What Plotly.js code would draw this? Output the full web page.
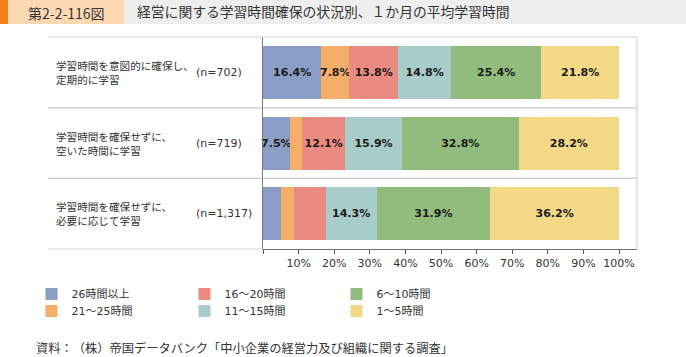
<!DOCTYPE html>
<html>
<head>
<meta charset="utf-8">
<script src="https://cdn.plot.ly/plotly-3.0.1.min.js"></script>
<style>
html,body{margin:0;padding:0;background:#fff;}
#chart{width:686px;height:357px;}
#chart text{text-spacing-trim:space-all;}
</style>
</head>
<body>
<div id="chart"></div>
<script>
// ---- data ----
const categories = ['学習時間を意図的に確保し、<br>定期的に学習', '学習時間を確保せずに、<br>空いた時間に学習', '学習時間を確保せずに、<br>必要に応じて学習'];
const sampleSizes = ['(n=702)', '(n=719)', '(n=1,317)'];
const seriesNames = ['26時間以上', '21～25時間', '16～20時間', '11～15時間', '6～10時間', '1～5時間'];
const h26plus = [16.4, 7.5, 5.1];
const h21to25 = [7.8, 3.5, 3.6];
const h16to20 = [13.8, 12.1, 8.9];
const h11to15 = [14.8, 15.9, 14.3];
const h6to10 = [25.4, 32.8, 31.9];
const h1to5 = [21.8, 28.2, 36.2];
// which segments carry a printed value label in the original
const labelShown = [[1, 1, 0], [1, 0, 0], [1, 1, 0], [1, 1, 1], [1, 1, 1], [1, 1, 1]];
const tickValues = [0, 10, 20, 30, 40, 50, 60, 70, 80, 90, 100];
const tickLabels = ['', '10%', '20%', '30%', '40%', '50%', '60%', '70%', '80%', '90%', '100%'];
const sourceNote = '資料：（株）帝国データバンク「中小企業の経営力及び組織に関する調査」';
const figNumber = '第2-2-116図';
const figTitle = '経営に関する学習時間確保の状況別、１か月の平均学習時間';

// ---- style ----
const colors = ['#8a9dc4', '#f5ae6a', '#ea8b82', '#a7ccc9', '#92bc7d', '#f3d886'];
const seriesValues = [h26plus, h21to25, h16to20, h11to15, h6to10, h1to5];
const FONT = 'DejaVu Sans, Noto Sans CJK JP, sans-serif';
const JFONT = 'Noto Sans CJK JP, sans-serif';

const W = 686, H = 357;
const L = 48, R = 49, T = 37, B = 108;
const PW = W - L - R, PH = H - T - B;
const px = v => (v - L) / PW;       // pixel x -> paper x
const py = v => (H - B - v) / PH;   // pixel y -> paper y
const axisStart = 263;              // pixel of 0%
const axisPer100 = 356;             // pixels per 100%

// legend placement (column symbol centres, row centres)
const legendCols = [51.5, 204.5, 356.5];
const legendRows = [294, 311];
const legendSlots = [[0, 0], [0, 1], [1, 0], [1, 1], [2, 0], [2, 1]];

const traces = seriesValues.map((vals, i) => ({
  type: 'bar',
  orientation: 'h',
  name: seriesNames[i],
  y: categories,
  x: vals,
  marker: { color: colors[i], line: { width: 0 } },
  text: vals.map((v, j) => labelShown[i][j] ? v.toFixed(1) + '%' : ''),
  textposition: 'inside',
  insidetextanchor: 'middle',
  textangle: 0,
  constraintext: 'none',
  cliponaxis: false,
  insidetextfont: { family: 'DejaVu Sans', size: 11, color: '#1a1a1a', weight: 'bold' },
  hoverinfo: 'skip',
  legend: i === 0 ? 'legend' : 'legend' + (i + 1),
  showlegend: true
}));

const layout = {
  width: W, height: H,
  margin: { l: L, r: R, t: T, b: B, autoexpand: false },
  paper_bgcolor: '#ffffff',
  plot_bgcolor: '#ffffff',
  font: { family: FONT, size: 11, color: '#333333' },
  barmode: 'stack',
  bargap: 0.25,
  title: {
    text: figTitle,
    xref: 'container', yref: 'container',
    x: 137 / W, xanchor: 'left',
    y: 1 - 12.5 / H, yanchor: 'middle',
    font: { family: JFONT, size: 13.8, color: '#333333' }
  },
  xaxis: {
    domain: [px(axisStart), 1],
    range: [0, (W - R - axisStart) / axisPer100 * 100],
    tickvals: tickValues,
    ticktext: tickLabels,
    ticks: 'outside', ticklen: 4, tickwidth: 1, tickcolor: '#555555',
    showline: true, linecolor: '#6e6e6e', linewidth: 1,
    showgrid: false, zeroline: false,
    tickfont: { family: 'DejaVu Sans', size: 11, color: '#333333' },
    fixedrange: true
  },
  yaxis: {
    type: 'category',
    categoryorder: 'array', categoryarray: categories,
    range: [2.5, -0.5],
    showticklabels: false, ticks: '',
    showline: true, linecolor: '#7a7a7a', linewidth: 1,
    showgrid: false, zeroline: false,
    fixedrange: true
  },
  shapes: [
    // header band
    { type: 'rect', xref: 'paper', yref: 'paper', x0: px(0), x1: px(W), y0: py(24), y1: py(0), fillcolor: '#eeeeee', line: { width: 0 }, layer: 'below' },
    { type: 'rect', xref: 'paper', yref: 'paper', x0: px(8), x1: px(124), y0: py(24), y1: py(0), fillcolor: '#fcd9b3', line: { width: 0 }, layer: 'below' },
    { type: 'rect', xref: 'paper', yref: 'paper', x0: px(0), x1: px(8), y0: py(24), y1: py(0), fillcolor: '#ee8318', line: { width: 0 }, layer: 'below' },
    // frame
    { type: 'line', xref: 'paper', yref: 'paper', x0: 0, x1: 1, y0: 1, y1: 1, line: { color: '#d4d4d4', width: 1.2 } },
    { type: 'line', xref: 'paper', yref: 'paper', x0: 1, x1: 1, y0: 0, y1: 1, line: { color: '#d4d4d4', width: 1.2 } },
    { type: 'line', xref: 'paper', yref: 'paper', x0: 0, x1: px(axisStart), y0: 0, y1: 0, line: { color: '#d4d4d4', width: 1.2 } },
    // row separators
    { type: 'line', xref: 'paper', yref: 'y', x0: 0, x1: 1, y0: 0.5, y1: 0.5, line: { color: '#d4d4d4', width: 1.5 }, layer: 'below' },
    { type: 'line', xref: 'paper', yref: 'y', x0: 0, x1: 1, y0: 1.5, y1: 1.5, line: { color: '#d4d4d4', width: 1.5 }, layer: 'below' }
  ],
  annotations: [
    { text: figNumber, xref: 'paper', yref: 'paper', x: px(66), y: py(12.5), xanchor: 'center', yanchor: 'middle', showarrow: false, font: { family: JFONT, size: 14, color: '#333333' } },
    { text: sourceNote, xref: 'paper', yref: 'paper', x: px(37), y: py(348), xanchor: 'left', yanchor: 'middle', showarrow: false, font: { family: JFONT, size: 12.25, color: '#333333' } }
  ].concat(categories.map(c => ({
    text: c, xref: 'paper', yref: 'y', x: px(54), y: c, xanchor: 'left', yanchor: 'middle', align: 'left', showarrow: false,
    font: { family: JFONT, size: 10.6, color: '#333333' }
  }))).concat(sampleSizes.map((n, j) => ({
    text: n, xref: 'paper', yref: 'y', x: px(194), y: categories[j], xanchor: 'left', yanchor: 'middle', showarrow: false,
    font: { family: 'DejaVu Sans', size: 11, color: '#333333' }
  })))
};

// one single-entry legend per series, placed in a 3 x 2 grid
legendSlots.forEach((slot, i) => {
  const key = i === 0 ? 'legend' : 'legend' + (i + 1);
  layout[key] = {
    x: px(legendCols[slot[0]] - 20), xanchor: 'left',
    y: py(legendRows[slot[1]]), yanchor: 'middle',
    orientation: 'v',
    bgcolor: 'rgba(0,0,0,0)', borderwidth: 0,
    font: { family: FONT, size: 11, color: '#333333' },
    itemclick: false, itemdoubleclick: false
  };
});

Plotly.newPlot('chart', traces, layout, { displayModeBar: false, staticPlot: true });
</script>
</body>
</html>
